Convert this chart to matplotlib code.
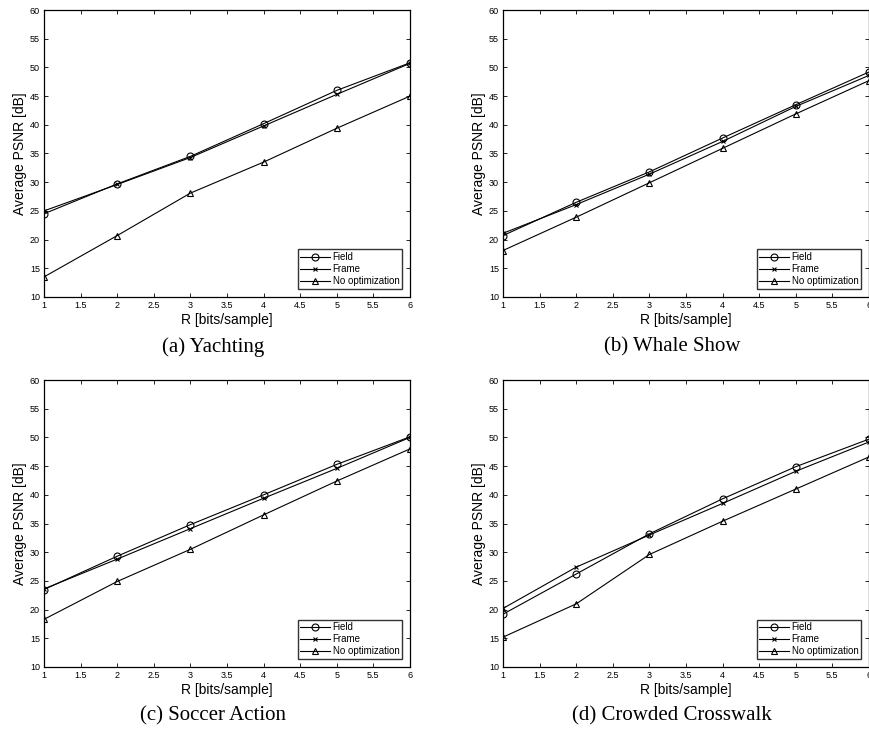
import matplotlib
matplotlib.use("Agg")
import matplotlib.pyplot as plt

R = [1, 2, 3, 4, 5, 6]

yacht_field = [24.5, 29.7, 34.5, 40.2, 46.0, 50.8]
yacht_frame = [25.0, 29.6, 34.3, 39.8, 45.3, 50.7]
yacht_noopt = [13.5, 20.7, 28.1, 33.5, 39.4, 45.0]

whale_field = [20.7, 26.5, 31.8, 37.7, 43.5, 49.2]
whale_frame = [21.1, 26.1, 31.4, 37.1, 43.2, 48.6]
whale_noopt = [18.1, 23.9, 29.9, 35.9, 41.9, 47.7]

soccer_field = [23.5, 29.3, 34.8, 40.0, 45.3, 50.1]
soccer_frame = [23.6, 28.8, 34.1, 39.4, 44.6, 50.0]
soccer_noopt = [18.3, 24.9, 30.5, 36.5, 42.4, 48.0]

crowd_field = [19.2, 26.2, 33.2, 39.3, 44.9, 49.7]
crowd_frame = [20.2, 27.4, 33.0, 38.5, 44.1, 49.2]
crowd_noopt = [15.2, 21.0, 29.6, 35.4, 41.0, 46.6]

captions = ["(a) Yachting", "(b) Whale Show", "(c) Soccer Action", "(d) Crowded Crosswalk"]
series_labels = ["Field", "Frame", "No optimization"]
xticks = [1, 1.5, 2, 2.5, 3, 3.5, 4, 4.5, 5, 5.5, 6]
xticklabels = ["1", "1.5", "2", "2.5", "3", "3.5", "4", "4.5", "5", "5.5", "6"]
yticks = [10, 15, 20, 25, 30, 35, 40, 45, 50, 55, 60]

panels = [
    (yacht_field, yacht_frame, yacht_noopt),
    (whale_field, whale_frame, whale_noopt),
    (soccer_field, soccer_frame, soccer_noopt),
    (crowd_field, crowd_frame, crowd_noopt),
]

W, H = 870, 731
fig = plt.figure(figsize=(W / 100, H / 100), dpi=100)
plt.rcParams['font.family'] = ['Liberation Sans', 'DejaVu Sans']

# pixel boxes: (left, top, right, bottom)
boxes = [(44, 10, 410, 297), (503, 10, 869, 297),
         (44, 380, 410, 667), (503, 380, 869, 667)]
cap_x = [213, 672, 213, 672]
cap_y = [347, 347, 716, 716]

markers = ['o', 'x', '^']
for i, (data, box) in enumerate(zip(panels, boxes)):
    l, t, r, b = box
    ax = fig.add_axes([l / W, 1 - b / H, (r - l) / W, (b - t) / H])
    for vals, mk, lab in zip(data, markers, series_labels):
        ax.plot(R, vals, color='black', lw=0.8, marker=mk, ms=5 if mk != 'x' else 3.5,
                mfc='none', mec='black', mew=0.8, label=lab)
    ax.set_xlim(1, 6)
    ax.set_ylim(10, 60)
    ax.set_xticks(xticks)
    ax.set_xticklabels(xticklabels)
    ax.set_yticks(yticks)
    ax.tick_params(direction='in', top=True, right=True, length=3, width=0.6,
                   labelsize=6.5, pad=3)
    for s in ax.spines.values():
        s.set_linewidth(0.9)
    ax.set_xlabel("R [bits/sample]", fontsize=10, labelpad=2)
    ax.set_ylabel("Average PSNR [dB]", fontsize=10, labelpad=2)
    leg = ax.legend(loc='lower right', fontsize=7, frameon=True, fancybox=False,
                    handlelength=3.0, handletextpad=0.3, borderpad=0.3,
                    labelspacing=0.2, borderaxespad=0.8)
    leg.get_frame().set_edgecolor('black')
    leg.get_frame().set_linewidth(1.0)
    fig.text(cap_x[i] / W, 1 - cap_y[i] / H, captions[i], ha='center', va='center',
             fontsize=15, family=['Liberation Serif', 'DejaVu Serif'])

fig.savefig("out.png", dpi=100)
